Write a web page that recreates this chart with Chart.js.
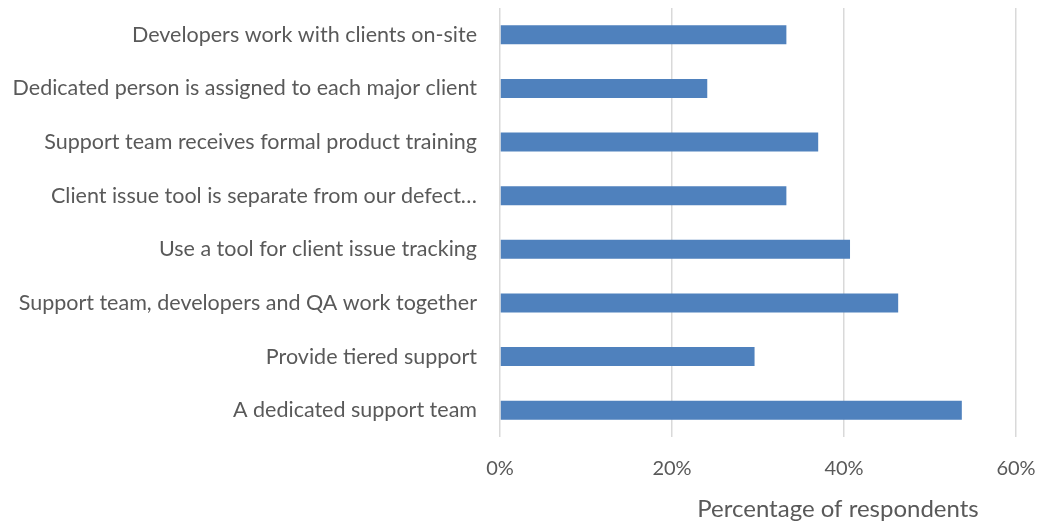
<!DOCTYPE html>
<html>
<head>
<meta charset="utf-8">
<script src="https://cdn.jsdelivr.net/npm/chart.js@4.4.3/dist/chart.umd.min.js"></script>
<style>
  html, body { margin: 0; padding: 0; background: #fff; }
  #wrap { width: 1040px; height: 524px; }
</style>
</head>
<body>
<div id="wrap"><canvas id="chart"></canvas></div>
<script>
const categories = [
    'Developers work with clients on-site',
    'Dedicated person is assigned to each major client',
    'Support team receives formal product training',
    'Client issue tool is separate from our defect\u2026',
    'Use a tool for client issue tracking',
    'Support team, developers and QA work together',
    'Provide tiered support',
    'A dedicated support team'
];
const shares = [0.333, 0.241, 0.370, 0.333, 0.407, 0.463, 0.296, 0.537];
const xTicks = [0, 0.2, 0.4, 0.6];
const axisTitle = 'Percentage of respondents';

const FONT = 'Lato, "Open Sans", sans-serif';
const TEXT = '#595959';

// draws the x axis title where Excel left it (right of centre)
const axisTitlePlugin = {
    id: 'axisTitle',
    afterDraw(chart) {
        const ctx = chart.ctx;
        ctx.save();
        ctx.font = '24px ' + FONT;
        ctx.fillStyle = TEXT;
        ctx.textAlign = 'center';
        ctx.textBaseline = 'middle';
        ctx.fillText(axisTitle, 838, 509);
        ctx.restore();
    }
};

new Chart(document.getElementById('chart'), {
    type: 'bar',
    data: {
        labels: categories,
        datasets: [{
            data: shares,
            backgroundColor: '#4f81bd',
            borderWidth: 0,
            barPercentage: 0.355,
            categoryPercentage: 1
        }]
    },
    options: {
        indexAxis: 'y',
        responsive: true,
        maintainAspectRatio: false,
        animation: false,
        layout: { padding: { top: 8, right: 24, left: 0, bottom: 0 } },
        plugins: {
            legend: { display: false },
            tooltip: { enabled: false }
        },
        scales: {
            x: {
                min: 0,
                max: 0.6,
                afterBuildTicks(scale) {
                    scale.ticks = xTicks.map(v => ({ value: v }));
                },
                afterFit(scale) {
                    scale.height = 87;
                    scale.paddingLeft = 0;
                    scale.paddingRight = 0;
                },
                grid: { color: '#d9d9d9', lineWidth: 1.5, drawTicks: false },
                border: { display: false },
                ticks: {
                    padding: 20,
                    color: TEXT,
                    font: { family: FONT, size: 20 },
                    callback: v => Math.round(v * 100) + '%'
                }
            },
            y: {
                afterFit(scale) {
                    scale.width = 500;
                    scale.paddingTop = 0;
                    scale.paddingBottom = 0;
                },
                grid: { display: false, drawTicks: false },
                border: { display: false },
                ticks: {
                    padding: 23,
                    color: TEXT,
                    font: { family: FONT, size: 21.5 }
                }
            }
        }
    },
    plugins: [axisTitlePlugin]
});
</script>
</body>
</html>
